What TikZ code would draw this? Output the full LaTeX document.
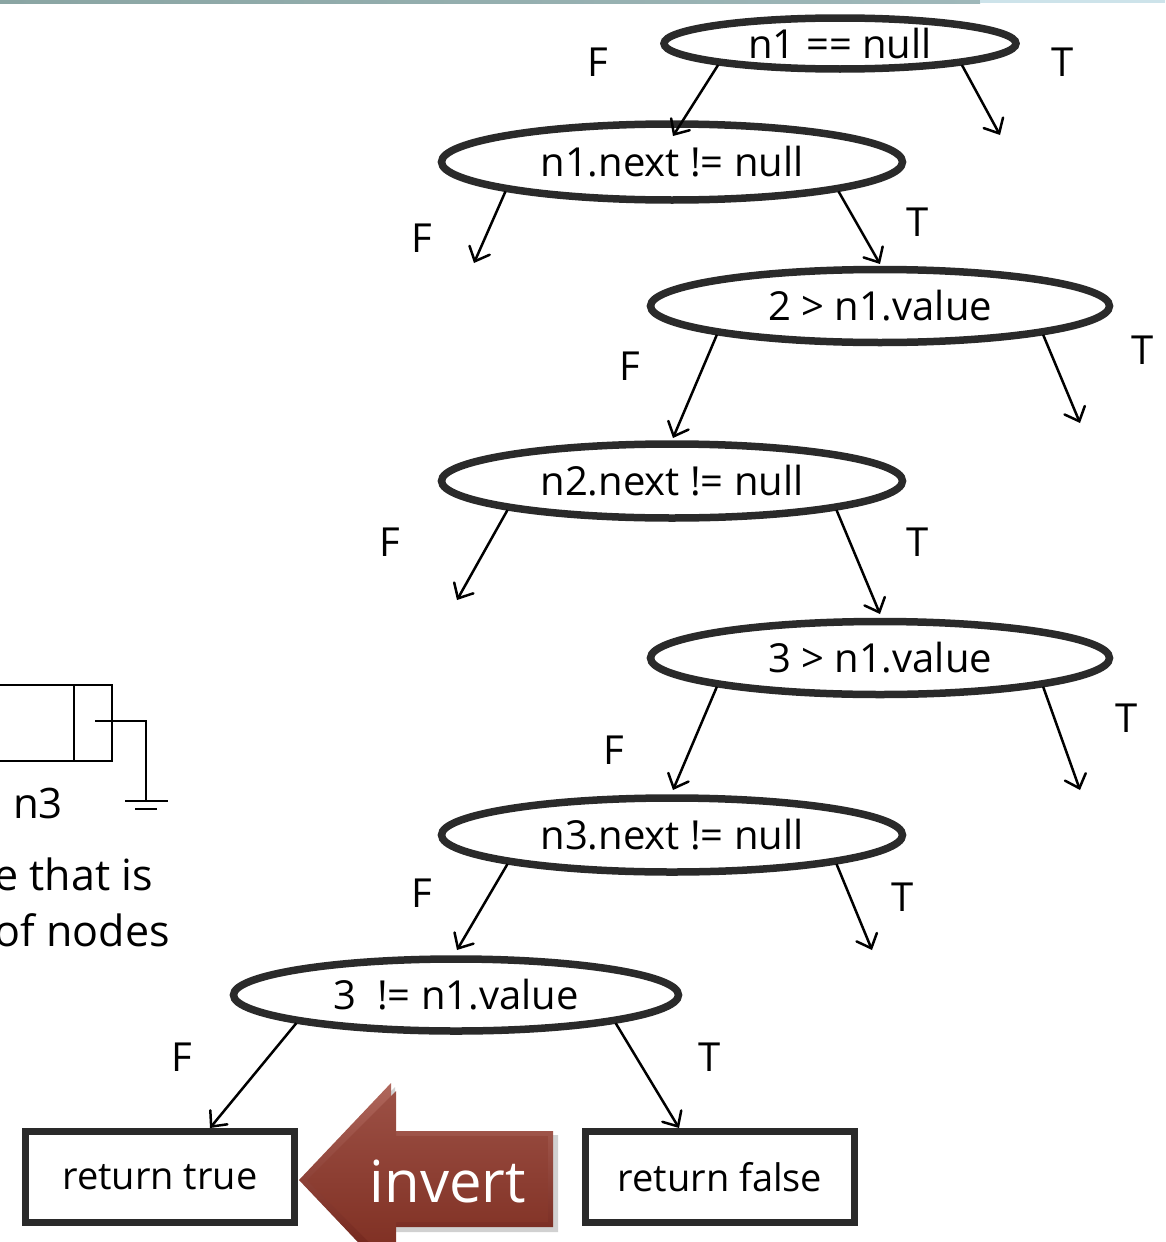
\documentclass[tikz,border=0pt]{standalone}
\usepackage{fontspec}
\setmainfont{Open Sans}
\usetikzlibrary{shapes.geometric,arrows.meta,shadings}

\definecolor{ink}{HTML}{2A2A2A}
\definecolor{arrowtop}{HTML}{B0675C}
\definecolor{arrowbot}{HTML}{6A1C12}
\definecolor{arrowtopin}{HTML}{9C5045}
\definecolor{arrowbotin}{HTML}{7C2C1F}
\definecolor{stripa}{HTML}{8AA5A3}
\definecolor{stripb}{HTML}{9FB8BA}
\definecolor{stripc}{HTML}{CDE3EA}

\tikzset{
  cond/.style={ellipse, draw=ink, line width=7.5pt, inner sep=0pt, align=center,
               font=\fontsize{40}{48}\selectfont},
  retbox/.style={rectangle, draw=ink, line width=7pt, inner sep=0pt,
                 minimum width=269pt, minimum height=91pt,
                 font=\fontsize{38}{46}\selectfont},
  edge/.style={draw=black, line width=2.5pt,
               -{Straight Barb[length=12pt,width=22pt,line cap=round]}},
  lbl/.style={font=\fontsize{40}{48}\selectfont, inner sep=0pt},
  thin/.style={draw=black, line width=2pt},
}

\begin{document}
\begin{tikzpicture}[x=1pt, y=-1pt]
\useasboundingbox (0,0) rectangle (1165,1242);

% header strip along the top edge
\shade[left color=stripa, right color=stripb] (0,0) rectangle (980,3);
\fill[stripc] (980,0) rectangle (1165,3);

% condition nodes
\node[cond, minimum width=352pt, minimum height=51pt] (e1) at (840,43.5) {n1 == null};
\node[cond, minimum width=461pt, minimum height=76pt] (e2) at (672,162) {n1.next != null};
\node[cond, minimum width=459pt, minimum height=73pt] (e3) at (880,306) {2 > n1.value};
\node[cond, minimum width=461pt, minimum height=74pt] (e4) at (672,481) {n2.next != null};
\node[cond, minimum width=459pt, minimum height=73pt] (e5) at (880,658) {3 > n1.value};
\node[cond, minimum width=461pt, minimum height=74pt] (e6) at (672,835) {n3.next != null};
\node[cond, minimum width=445pt, minimum height=72pt] (e7) at (456,995) {3~~!= n1.value};

% result nodes
\node[retbox] (rt) at (160,1177) {return true};
\node[retbox] (rf) at (720,1177) {return false};

% free ends of the branches
\coordinate (e1f) at (673,136);  \coordinate (e1t) at (1000,135);
\coordinate (e2f) at (474,263);  \coordinate (e2t) at (880,264);
\coordinate (e3f) at (673,438);  \coordinate (e3t) at (1080,423);
\coordinate (e4f) at (457,600);  \coordinate (e4t) at (880,614);
\coordinate (e5f) at (673,790);  \coordinate (e5t) at (1080,790);
\coordinate (e6f) at (457,950);  \coordinate (e6t) at (872,950);
\coordinate (e7f) at (210,1128); \coordinate (e7t) at (679,1128);

% branches
\path[edge] (e1.190) -- (e1f);
\path[edge] (e1.350) -- (e1t);
\path[edge] (e2.190) -- (e2f);
\path[edge] (e2.350) -- (e2t);
\path[edge] (e3.190) -- (e3f);
\path[edge] (e3.350) -- (e3t);
\path[edge] (e4.190) -- (e4f);
\path[edge] (e4.350) -- (e4t);
\path[edge] (e5.190) -- (e5f);
\path[edge] (e5.350) -- (e5t);
\path[edge] (e6.190) -- (e6f);
\path[edge] (e6.350) -- (e6t);
\path[edge] (e7.190) -- (e7f);
\path[edge] (e7.350) -- (e7t);

% branch labels
\node[lbl] (l1f) at (598,62) {F};   \node[lbl] (l1t) at (1063,62) {T};
\node[lbl] (l2f) at (422,238) {F};  \node[lbl] (l2t) at (918,222) {T};
\node[lbl] (l3f) at (630,366) {F};  \node[lbl] (l3t) at (1143,350) {T};
\node[lbl] (l4f) at (390,542) {F};  \node[lbl] (l4t) at (918,542) {T};
\node[lbl] (l5f) at (614,750) {F};  \node[lbl] (l5t) at (1127,718) {T};
\node[lbl] (l6f) at (422,893) {F};  \node[lbl] (l6t) at (903,897) {T};
\node[lbl] (l7f) at (182,1057) {F}; \node[lbl] (l7t) at (710,1057) {T};

% list node n3 with its null pointer
\draw[thin] (-10,685) -- (112,685) -- (112,761) -- (-10,761);
\draw[thin] (74,685) -- (74,761);
\draw[thin] (95,721) -- (146,721) -- (146,801);
\draw[thin] (125,801) -- (168,801);
\draw[thin] (135,809) -- (157,809);
\node[lbl, font=\fontsize{42}{50}\selectfont] (n3) at (38,803) {n3};
\node[lbl, font=\fontsize{43}{50}\selectfont, anchor=base east] (cap1) at (153,890) {e that is};
\node[lbl, font=\fontsize{43}{50}\selectfont, anchor=base east] (cap2) at (170,946) {of nodes};

% "invert" block arrow
\fill[black, opacity=0.18] (303,1184) -- (395,1087) -- (395,1135) -- (558,1135)
  -- (558,1232) -- (395,1232) -- (395,1281) -- cycle;
\shade[top color=arrowtop, bottom color=arrowbot]
  (299,1180) -- (391,1083) -- (391,1131) -- (553,1131)
  -- (553,1227) -- (391,1227) -- (391,1277) -- cycle;
\shade[top color=arrowtopin, bottom color=arrowbotin]
  (307,1180) -- (396,1091) -- (396,1136) -- (548,1136)
  -- (548,1222) -- (396,1222) -- (396,1269) -- cycle;
\node[font=\fontsize{58}{66}\selectfont, text=white, inner sep=0pt, anchor=base]
  (inv) at (448,1202) {invert};
\end{tikzpicture}
\end{document}
